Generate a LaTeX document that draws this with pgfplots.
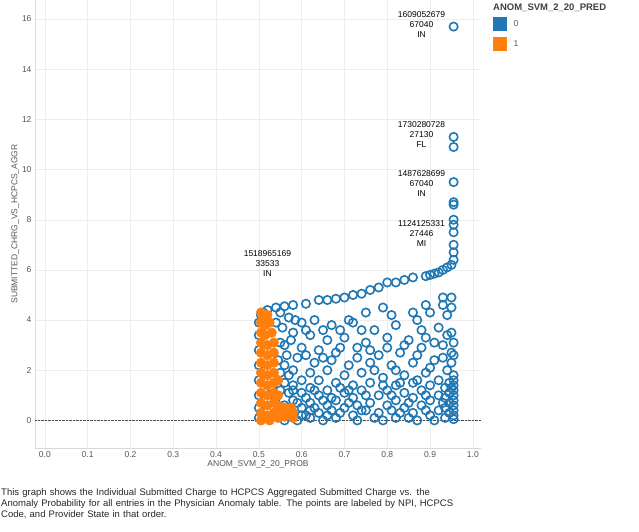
\documentclass[border=0pt]{standalone}
\usepackage{pgfplots}
\pgfplotsset{compat=1.18}
\usepackage{fontspec}
\setmainfont{Liberation Sans}
\definecolor{tblue}{HTML}{1F77B4}
\definecolor{torange}{HTML}{FF7F0E}
\definecolor{gtxt}{HTML}{555555}
\begin{document}
\begin{tikzpicture}
\useasboundingbox (-35pt,-84pt) rectangle (604pt,448pt);
\begin{axis}[scale only axis, width=446pt, height=448pt,
  xmin=-0.023, xmax=1.019, ymin=-1.1, ymax=16.76,
  xtick={0,0.1,...,1.0}, ytick={0,2,...,16},
  xticklabel style={/pgf/number format/fixed,/pgf/number format/precision=1,/pgf/number format/fixed zerofill},
  /pgf/number format/assume math mode=true,
  tick label style={font=\fontsize{8.5}{9}\selectfont, text=gtxt},
  grid=major, grid style={draw=black!7},
  axis line style={draw=black!15}, axis x line*=bottom, axis y line*=left,
  tick style={draw=none},
  xlabel={ANOM\_SVM\_2\_20\_PROB}, ylabel={SUBMITTED\_CHRG\_VS\_HCPCS\_AGGR},
  label style={font=\fontsize{8.5}{9}\selectfont, text=gtxt},
  xlabel style={yshift=4pt}, ylabel style={yshift=-4pt},
  clip=false]
\draw[densely dotted, black!70] (axis cs:-0.023,0) -- (axis cs:1.019,0);
\addplot[only marks, mark=o, mark size=4.2pt, mark options={line width=1.6pt, draw=tblue}] table {
x y
0.955 15.7
0.955 11.3
0.955 10.9
0.955 9.5
0.955 8.7
0.955 8.6
0.955 8.0
0.955 7.8
0.955 7.5
0.955 7.0
0.955 6.7
0.955 6.4
0.95 6.2
0.94 6.1
0.93 6.0
0.92 5.9
0.91 5.85
0.90 5.8
0.89 5.75
0.86 5.7
0.84 5.6
0.82 5.5
0.80 5.5
0.78 5.3
0.76 5.2
0.74 5.05
0.72 5.0
0.70 4.9
0.68 4.85
0.66 4.8
0.64 4.8
0.61 4.65
0.58 4.6
0.56 4.55
0.54 4.5
0.52 4.4
0.51 4.3
0.505 4.2
0.50 3.9
0.50 3.4
0.50 2.8
0.50 2.2
0.50 1.6
0.50 1.0
0.50 0.5
0.50 0.1
0.55 4.3
0.57 4.1
0.60 3.9
0.63 4.0
0.67 3.8
0.72 3.9
0.77 3.6
0.82 3.8
0.87 4.0
0.90 4.3
0.93 4.6
0.95 4.9
0.94 4.2
0.92 3.7
0.95 3.5
0.89 3.3
0.85 3.2
0.80 3.3
0.75 3.1
0.70 3.3
0.66 3.2
0.62 3.4
0.58 3.5
0.56 3.0
0.60 2.9
0.64 2.8
0.68 2.7
0.73 2.9
0.78 2.6
0.83 2.7
0.88 2.9
0.93 3.0
0.95 2.7
0.91 2.4
0.86 2.3
0.81 2.2
0.76 2.3
0.71 2.2
0.67 2.4
0.63 2.3
0.59 2.5
0.56 2.2
0.58 2.0
0.62 1.9
0.66 2.0
0.70 1.8
0.74 1.9
0.79 1.7
0.84 1.8
0.89 1.9
0.94 2.0
0.955 1.8
0.955 1.6
0.955 1.4
0.955 1.2
0.955 1.0
0.955 0.8
0.955 0.6
0.955 0.4
0.955 0.2
0.955 0.05
0.945 1.5
0.945 1.1
0.945 0.7
0.945 0.3
0.935 1.3
0.935 0.9
0.935 0.5
0.935 0.1
0.92 1.6
0.92 1.0
0.92 0.4
0.90 1.4
0.90 0.8
0.90 0.2
0.88 1.2
0.88 0.6
0.86 1.5
0.86 0.9
0.86 0.3
0.84 1.1
0.84 0.5
0.82 1.4
0.82 0.8
0.82 0.1
0.80 1.2
0.80 0.6
0.78 1.0
0.78 0.3
0.76 1.5
0.76 0.7
0.74 1.2
0.74 0.4
0.72 1.4
0.72 0.9
0.72 0.2
0.70 1.1
0.70 0.5
0.68 1.5
0.68 0.8
0.68 0.1
0.66 1.2
0.66 0.6
0.64 1.6
0.64 1.0
0.64 0.3
0.62 1.3
0.62 0.7
0.62 0.1
0.60 1.6
0.60 1.1
0.60 0.5
0.59 0.0
0.58 1.4
0.58 0.8
0.58 0.3
0.57 1.8
0.57 1.1
0.56 1.5
0.56 0.6
0.55 1.9
0.55 1.2
0.55 0.2
0.565 2.6
0.575 3.2
0.555 3.7
0.585 4.0
0.61 3.6
0.65 3.6
0.69 3.6
0.61 2.6
0.65 2.5
0.69 2.9
0.73 2.5
0.77 2.0
0.82 2.0
0.87 2.6
0.91 3.1
0.94 3.4
0.93 2.5
0.95 2.3
0.95 4.5
0.93 4.9
0.89 4.6
0.86 4.3
0.81 4.2
0.79 4.5
0.75 4.3
0.74 3.6
0.71 4.0
0.76 2.8
0.80 2.9
0.84 3.0
0.88 3.6
0.90 2.1
0.87 1.6
0.83 1.5
0.79 1.4
0.75 1.0
0.71 0.7
0.67 0.4
0.63 0.5
0.61 0.9
0.65 0.8
0.69 1.3
0.73 0.6
0.77 0.1
0.81 0.4
0.85 0.1
0.89 0.4
0.91 0.0
0.93 0.7
0.95 1.3
0.955 2.6
0.955 3.1
0.57 0.4
0.56 0.0
0.61 0.2
0.65 0.0
0.69 0.3
0.73 0.0
0.79 0.0
0.83 0.3
0.87 0.0
0.53 1.3
0.54 0.9
0.55 0.5
0.545 2.4
0.55 3.1
0.54 3.9
0.58 1.2
0.59 0.7
0.60 0.2
0.63 1.2
0.62 0.4
0.67 0.9
0.66 0.2
0.71 1.2
0.75 0.4
0.81 1.0
0.85 0.7
0.89 1.0
};
\addplot[only marks, mark=*, mark size=4.8pt, mark options={draw=torange, fill=torange, line width=0.5pt}] table {
x y
0.505 4.3
0.51 4.1
0.52 4.2
0.505 3.9
0.515 3.8
0.525 3.9
0.505 3.5
0.515 3.4
0.53 3.5
0.505 3.1
0.52 3.0
0.535 3.1
0.505 2.7
0.52 2.6
0.535 2.7
0.505 2.3
0.52 2.2
0.535 2.3
0.505 1.9
0.52 1.8
0.535 1.9
0.505 1.5
0.52 1.4
0.535 1.5
0.545 1.6
0.505 1.1
0.52 1.0
0.535 1.1
0.545 1.0
0.505 0.7
0.52 0.6
0.535 0.7
0.545 0.6
0.505 0.3
0.52 0.2
0.535 0.3
0.55 0.4
0.56 0.5
0.57 0.3
0.575 0.5
0.56 0.15
0.545 0.1
0.505 0.0
0.525 0.0
0.58 0.3
0.58 0.1
};
\node[font=\fontsize{8.5}{10}\selectfont, align=center] at (axis cs:0.88,15.8) {1609052679\\67040\\IN};
\node[font=\fontsize{8.5}{10}\selectfont, align=center] at (axis cs:0.88,11.4) {1730280728\\27130\\FL};
\node[font=\fontsize{8.5}{10}\selectfont, align=center] at (axis cs:0.88,9.45) {1487628699\\67040\\IN};
\node[font=\fontsize{8.5}{10}\selectfont, align=center] at (axis cs:0.88,7.45) {1124125331\\27446\\MI};
\node[font=\fontsize{8.5}{10}\selectfont, align=center] at (axis cs:0.52,6.25) {1518965169\\33533\\IN};
\end{axis}
\node[anchor=north west, font=\bfseries\fontsize{9.5}{10}\selectfont, text=black!75, inner sep=0] at (458pt,444pt) {ANOM\_SVM\_2\_20\_PRED};
\fill[tblue] (458pt,417pt) rectangle (472pt,431pt);
\node[anchor=west, font=\fontsize{8.5}{9}\selectfont, text=gtxt] at (475pt,424pt) {0};
\fill[torange] (458pt,397pt) rectangle (472pt,411pt);
\node[anchor=west, font=\fontsize{8.5}{9}\selectfont, text=gtxt] at (475pt,404pt) {1};
\node[anchor=north west, inner sep=0, text width=452pt, align=left, font=\fontsize{9.5}{11}\selectfont, text=black!85] at (-34pt,-40pt) {This graph shows the Individual Submitted Charge to HCPCS Aggregated Submitted Charge vs. the Anomaly Probability for all entries in the Physician Anomaly table. The points are labeled by NPI, HCPCS Code, and Provider State in that order.};
\end{tikzpicture}
\end{document}
